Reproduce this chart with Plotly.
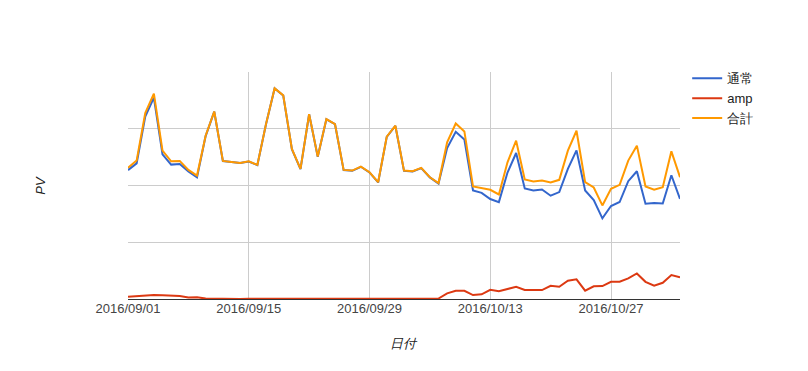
import pandas as pd
import plotly.graph_objects as go

dates = pd.date_range("2016-09-01", "2016-11-04", freq="D")

normal = [2271, 2390, 3214, 3549, 2549, 2368, 2380, 2249, 2143, 2870,
          3301, 2431, 2413, 2396, 2423, 2360, 3078, 3711, 3586, 2641,
          2290, 3256, 2506, 3167, 3080, 2272, 2259, 2330, 2230, 2054,
          2857, 3049, 2258, 2247, 2306, 2142, 2035, 2660, 2947, 2809,
          1912, 1871, 1762, 1707, 2228, 2573, 1947, 1912, 1930, 1820,
          1884, 2293, 2619, 1912, 1742, 1421, 1639, 1709, 2076, 2251,
          1679, 1692, 1684, 2181, 1765]

amp = [40, 49, 61, 70, 65, 58, 53, 26, 32, 7,
       3, 2, 3, 2, 3, 3, 4, 3, 2, 3,
       3, 2, 3, 3, 2, 3, 4, 3, 3, 4,
       3, 4, 5, 4, 5, 4, 9, 100, 146, 144,
       70, 82, 163, 135, 181, 216, 158, 158, 158, 233,
       216, 321, 346, 146, 223, 228, 303, 303, 363, 451,
       303, 233, 286, 421, 381]

total = [2311, 2439, 3275, 3619, 2614, 2426, 2433, 2275, 2175, 2877,
         3304, 2433, 2416, 2398, 2426, 2363, 3082, 3714, 3588, 2644,
         2293, 3258, 2509, 3170, 3082, 2275, 2263, 2333, 2233, 2058,
         2860, 3053, 2263, 2251, 2311, 2146, 2044, 2760, 3093, 2953,
         1982, 1953, 1925, 1842, 2409, 2789, 2105, 2070, 2088, 2053,
         2100, 2614, 2965, 2058, 1965, 1649, 1942, 2012, 2439, 2702,
         1982, 1925, 1970, 2602, 2146]

series_names = ["通常", "amp", "合計"]
colors = ["#3366CC", "#DC3912", "#FF9900"]

fig = go.Figure()
for name, vals, col in zip(series_names, [normal, amp, total], colors):
    fig.add_trace(go.Scatter(x=dates, y=vals, mode="lines", name=name,
                             line=dict(color=col, width=2)))

# page body has an 8px margin, so the figure is 8px smaller and margins shifted
fig.update_layout(
    width=800, height=363,
    margin=dict(l=120, r=128, t=64, b=72),
    paper_bgcolor="white", plot_bgcolor="white",
    font=dict(family="Arial, Liberation Sans, sans-serif", size=13, color="#222"),
    showlegend=True,
    legend=dict(x=1.013, y=1.038, xanchor="left", yanchor="top",
                font=dict(size=13, color="#222"), bgcolor="rgba(0,0,0,0)",
                itemwidth=30, traceorder="normal"),
    xaxis=dict(
        range=[dates[0], dates[-1]],
        tick0="2016-09-01", dtick=14 * 86400000, tickformat="%Y/%m/%d",
        showgrid=True, gridcolor="#cccccc", gridwidth=1,
        showline=False, zeroline=False, ticks="",
        tickfont=dict(family="Arial, Liberation Sans, sans-serif",
                      size=13, color="#444"),
    ),
    yaxis=dict(
        range=[0, 4000], dtick=1000,
        showgrid=True, gridcolor="#cccccc", gridwidth=1,
        showticklabels=False, showline=False, ticks="",
        zeroline=True, zerolinecolor="#333333", zerolinewidth=1,
    ),
    annotations=[
        dict(text="<i>PV</i>", xref="paper", yref="paper", x=-0.159, y=0.5,
             textangle=-90, showarrow=False, font=dict(size=13, color="#222"),
             xanchor="center", yanchor="middle"),
        dict(text="<i>日付</i>", xref="paper", yref="paper", x=0.5, y=-0.198,
             showarrow=False, font=dict(size=13, color="#222"),
             xanchor="center", yanchor="middle"),
    ],
)

fig.write_html("out.html")
